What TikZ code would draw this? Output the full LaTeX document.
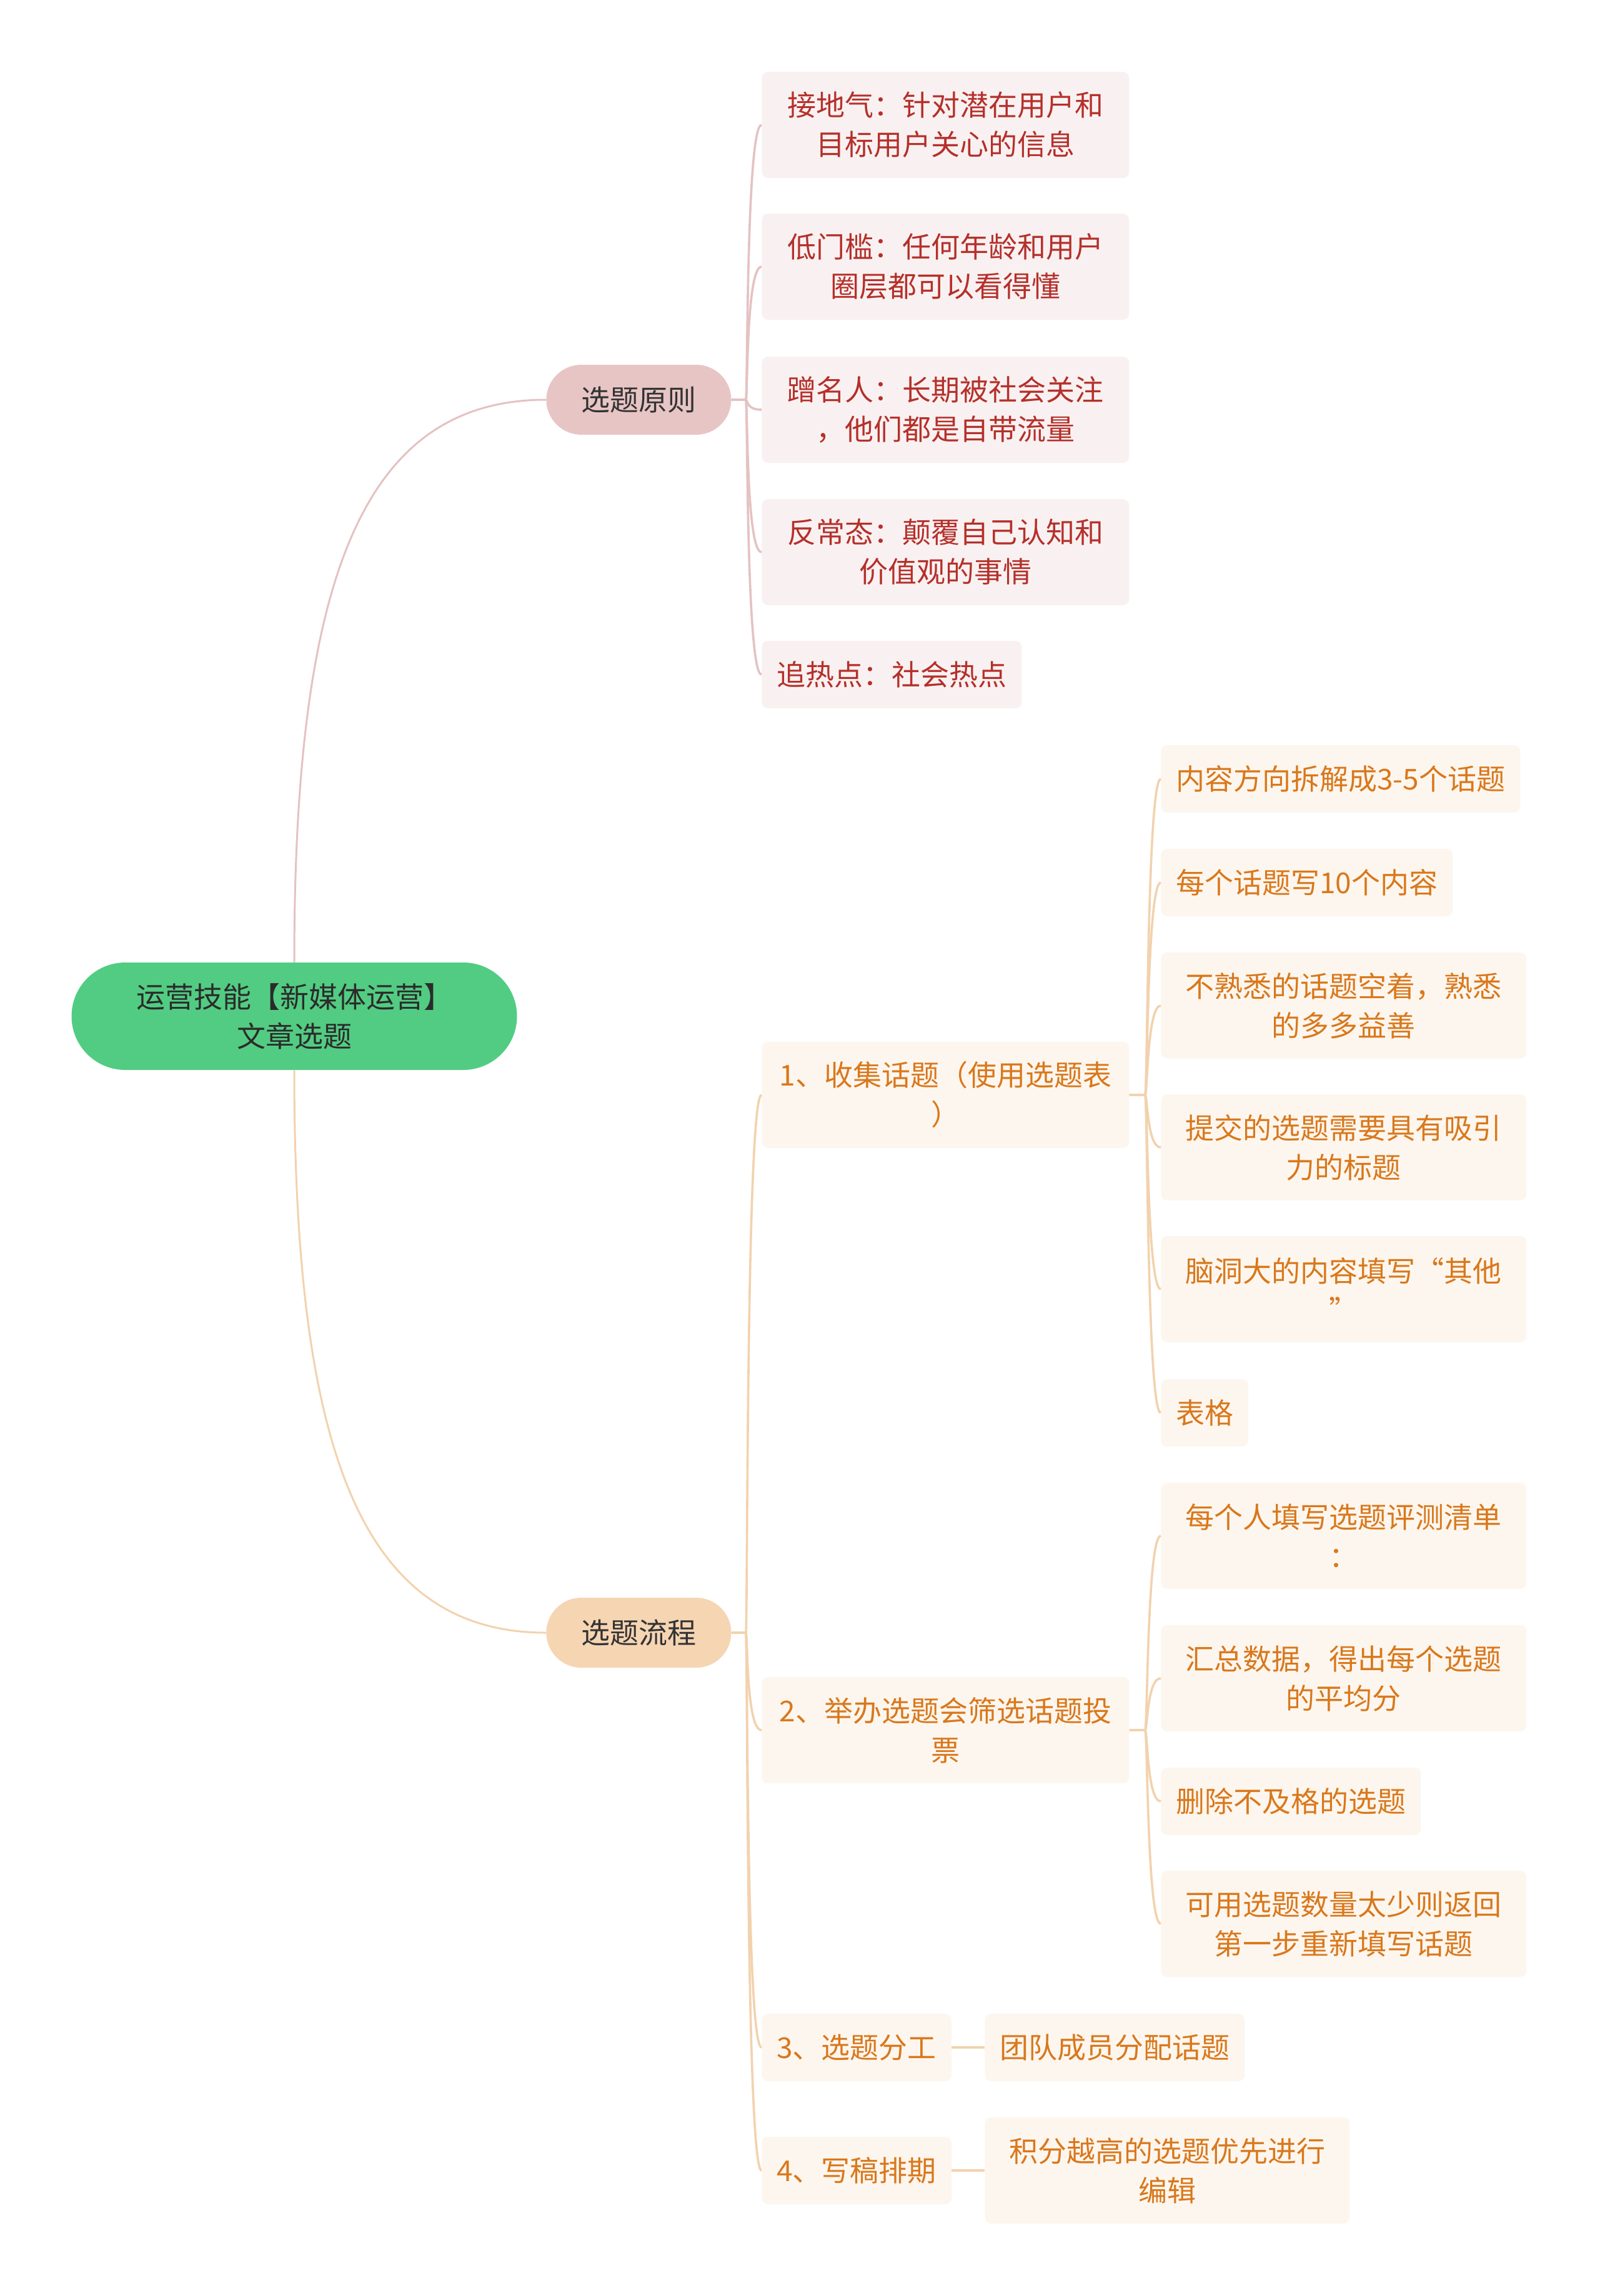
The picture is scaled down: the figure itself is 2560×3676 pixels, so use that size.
\documentclass[tikz,border=0pt]{standalone}
\usepackage{fontspec}
\setmainfont{Noto Sans CJK SC}
\usepackage{xcolor}
\usepackage{tikz}
\usetikzlibrary{positioning}
\definecolor{rootfill}{HTML}{52CC82}
\definecolor{roottext}{HTML}{2B2B2B}
\definecolor{topictext}{HTML}{333333}
\definecolor{pinkpill}{HTML}{E8C5C5}
\definecolor{peachpill}{HTML}{F6D5B3}
\definecolor{pinkbg}{HTML}{F9F1F1}
\definecolor{peachbg}{HTML}{FDF6EE}
\definecolor{redtxt}{HTML}{B5302B}
\definecolor{orangetxt}{HTML}{D9781C}
\definecolor{pinkline}{HTML}{E5C2C2}
\definecolor{peachline}{HTML}{F2D2AE}
\newcommand{\mapfont}{\fontsize{23pt}{31.5pt}\selectfont}
\tikzset{
  rootnode/.style={fill=rootfill, text=roottext, font=\mapfont, align=center,
    rounded corners=43pt, minimum width=356.5pt, minimum height=86pt},
  topicR/.style={fill=pinkpill, text=topictext, font=\mapfont,
    rounded corners=28pt, minimum width=148pt, minimum height=56pt, anchor=west},
  topicO/.style={topicR, fill=peachpill},
  leafR/.style={fill=pinkbg, text=redtxt, font=\mapfont, align=center,
    rounded corners=5pt, inner xsep=12pt, minimum height=54pt, anchor=west},
  leafO/.style={leafR, fill=peachbg, text=orangetxt},
  twoline/.style={minimum width=294pt, minimum height=85pt},
  linkR/.style={draw=pinkline, line width=1.8pt},
  linkO/.style={draw=peachline, line width=1.8pt},
}
\begin{document}
\begin{tikzpicture}[x=0.5pt, y=-0.5pt]
  \useasboundingbox[fill=white] (0,0) rectangle (2560,3676);

  % root and main topics
  \node[rootnode] (root) at (471,1627) {运营技能【新媒体运营】\\文章选题};
  \node[topicR] (yzyz) at (874,640) {选题原则};
  \node[topicO] (xtlc) at (874,2614) {选题流程};

  % 选题原则
  \node[leafR,twoline] (a1) at (1219,200) {接地气：针对潜在用户和\\目标用户关心的信息};
  \node[leafR,twoline] (a2) at (1219,427) {低门槛：任何年龄和用户\\圈层都可以看得懂};
  \node[leafR,twoline] (a3) at (1219,656) {蹭名人：长期被社会关注\\，他们都是自带流量};
  \node[leafR,twoline] (a4) at (1219,884) {反常态：颠覆自己认知和\\价值观的事情};
  \node[leafR] (a5) at (1219,1080) {追热点：社会热点};

  % 选题流程
  \node[leafO,twoline] (b1) at (1219,1753) {1、收集话题（使用选题表\\）};
  \node[leafO,twoline] (b2) at (1219,2770) {2、举办选题会筛选话题投\\票};
  \node[leafO] (b3) at (1219,3278) {3、选题分工};
  \node[leafO] (b4) at (1219,3475) {4、写稿排期};

  % 收集话题
  \node[leafO] (c1) at (1858,1247) {内容方向拆解成3-5个话题};
  \node[leafO] (c2) at (1858,1413) {每个话题写10个内容};
  \node[leafO,twoline,minimum width=292.5pt] (c3) at (1858,1610) {不熟悉的话题空着，熟悉\\的多多益善};
  \node[leafO,twoline,minimum width=292.5pt] (c4) at (1858,1837) {提交的选题需要具有吸引\\力的标题};
  \node[leafO,twoline,minimum width=292.5pt] (c5) at (1858,2064) {脑洞大的内容填写“其他\\”};
  \node[leafO] (c6) at (1858,2262) {表格};

  % 举办选题会
  \node[leafO,twoline,minimum width=292.5pt] (d1) at (1858,2459) {每个人填写选题评测清单\\：};
  \node[leafO,twoline,minimum width=292.5pt] (d2) at (1858,2687) {汇总数据，得出每个选题\\的平均分};
  \node[leafO] (d3) at (1858,2884) {删除不及格的选题};
  \node[leafO,twoline,minimum width=292.5pt] (d4) at (1858,3080) {可用选题数量太少则返回\\第一步重新填写话题};

  \node[leafO] (e1) at (1576,3278) {团队成员分配话题};
  \node[leafO,twoline,minimum width=292pt] (f1) at (1576,3475) {积分越高的选题优先进行\\编辑};

  % connectors
  \draw[linkR,line width=1.5pt] (root.north) .. controls +(0,-600) and +(-300,0) .. (yzyz.west);
  \draw[linkO,line width=1.5pt] (root.south) .. controls +(0,600) and +(-300,0) .. (xtlc.west);
  \foreach \c in {a1,a2,a3,a4,a5}
    \draw[linkR] (yzyz.east) -- ++(23,0) .. controls +(3,0) and +(-25,0) .. (\c.west);
  \foreach \c in {b1,b2,b3,b4}
    \draw[linkO] (xtlc.east) -- ++(23,0) .. controls +(3,0) and +(-25,0) .. (\c.west);
  \foreach \c in {c1,c2,c3,c4,c5,c6}
    \draw[linkO] (b1.east) -- ++(25,0) .. controls +(4,0) and +(-22,0) .. (\c.west);
  \foreach \c in {d1,d2,d3,d4}
    \draw[linkO] (b2.east) -- ++(25,0) .. controls +(4,0) and +(-22,0) .. (\c.west);
  \draw[linkO] (b3.east) -- (e1.west);
  \draw[linkO] (b4.east) -- (f1.west);
\end{tikzpicture}
\end{document}
